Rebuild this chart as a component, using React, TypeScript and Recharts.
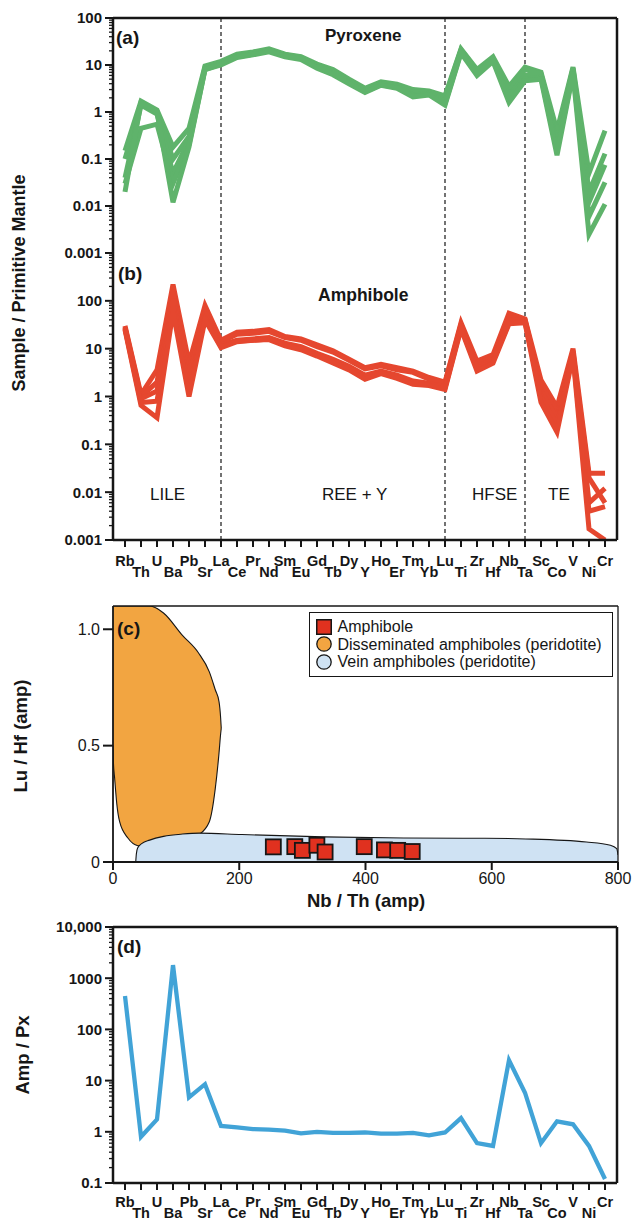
import type { JSX } from 'react';
import {
  Area,
  ComposedChart,
  Legend,
  Line,
  LineChart,
  ReferenceLine,
  Scatter,
  XAxis,
  YAxis,
} from 'recharts';

const FONT = '"Liberation Sans", Arial, Helvetica, sans-serif';
const INK = '#161616';
const GREEN = '#5fb36b';
const RED = '#e5472f';
const BLUE = '#41a3d7';
const ORANGE = '#f2a541';
const PALE_BLUE = '#cfe2f3';
const SQUARE_RED = '#e0311f';

const elements = [
  'Rb', 'Th', 'U', 'Ba', 'Pb', 'Sr', 'La', 'Ce', 'Pr', 'Nd', 'Sm', 'Eu', 'Gd', 'Tb', 'Dy', 'Y',
  'Ho', 'Er', 'Tm', 'Yb', 'Lu', 'Ti', 'Zr', 'Hf', 'Nb', 'Ta', 'Sc', 'Co', 'V', 'Ni', 'Cr',
];
const elementIdx = elements.map((_, i) => i);

// (a) pyroxene / primitive mantle, one array per sample
const pyroxene1 = [0.15, 1.7, 1.1, 0.18, 0.45, 9.5, 12, 17, 19, 22, 17, 15, 10.5, 8, 5, 3.2, 4.4, 3.9, 3, 2.8, 2.2, 22, 8, 15, 3.5, 9, 7, 0.4, 9, 0.05, 0.4];
const pyroxene2 = [0.1, 1.5, 1.0, 0.1, 0.3, 9, 11.5, 16, 18, 21, 16.5, 14.5, 10, 7.5, 4.8, 3, 4.2, 3.7, 2.6, 2.7, 2, 21, 7.5, 14, 2.8, 8, 6.5, 0.3, 8.5, 0.02, 0.13];
const pyroxene3 = [0.04, 1.4, 0.9, 0.05, 0.25, 8.5, 11, 15.5, 17, 20, 16, 14, 9.5, 7, 4.5, 2.8, 4, 3.5, 2.3, 2.5, 1.7, 20, 7, 13, 2.2, 6, 6, 0.2, 8, 0.012, 0.075];
const pyroxene4 = [0.03, 0.45, 0.55, 0.03, 0.2, 8, 10.5, 15, 17, 20, 15.5, 13.5, 9, 6.5, 4.2, 2.7, 3.8, 3.3, 2.2, 2.4, 1.5, 19, 6.5, 12.5, 2, 5, 5.5, 0.15, 7, 0.006, 0.032];
const pyroxene5 = [0.02, 1.6, 1.0, 0.012, 0.18, 8, 10, 14.5, 16.5, 19, 15, 13, 8.5, 6.2, 4, 2.6, 3.7, 3.2, 2.1, 2.3, 1.4, 18, 6, 12, 1.6, 4.6, 5, 0.12, 6.5, 0.0025, 0.011];

// (b) amphibole / primitive mantle
const amphibole1 = [30, 1.1, 3.6, 220, 5, 80, 15, 22, 23, 25, 18, 16, 12, 9, 6, 4, 4.7, 4, 3.4, 2.5, 2, 35, 5.5, 7.5, 55, 42, 2.2, 0.6, 10, 0.025, 0.025];
const amphibole2 = [28, 1.0, 2, 150, 3.5, 65, 14, 20, 21, 23, 17, 15, 11, 8.5, 5.7, 3.8, 4.4, 3.6, 3.2, 2.3, 1.9, 32, 4.8, 6.5, 45, 40, 1.7, 0.45, 9, 0.006, 0.012];
const amphibole3 = [27, 0.9, 1.3, 110, 2.5, 55, 12, 15, 16, 17, 13, 11, 8, 6, 4.3, 2.8, 3.4, 2.8, 2.1, 1.9, 1.6, 30, 4.2, 6, 40, 38, 1.3, 0.35, 8, 0.02, 0.006];
const amphibole4 = [26, 0.75, 0.8, 80, 1.5, 45, 11, 14.5, 15, 16, 12, 10, 7.5, 5.5, 4, 2.5, 3.2, 2.6, 1.9, 1.8, 1.5, 28, 3.8, 5.5, 35, 36, 1.0, 0.25, 7.5, 0.004, 0.005];
const amphibole5 = [25, 0.65, 0.36, 60, 1.0, 40, 10.5, 14, 15, 15.5, 11.5, 9.5, 7, 5, 3.6, 2.3, 3, 2.4, 1.8, 1.7, 1.4, 26, 3.4, 5, 33, 35, 0.75, 0.18, 7, 0.0017, 0.001];

// (d) amphibole / pyroxene
const ampPx = [450, 0.8, 1.75, 1800, 4.7, 8.5, 1.3, 1.22, 1.13, 1.1, 1.05, 0.93, 1.0, 0.95, 0.95, 0.97, 0.92, 0.92, 0.95, 0.85, 0.97, 1.85, 0.6, 0.53, 25, 5.8, 0.6, 1.6, 1.4, 0.53, 0.12];

// (c) Lu/Hf vs Nb/Th fields and points
const dissemNbTh = [0, 0.6, 2.6, 6, 10.5, 23.6, 39.4, 58, 80, 110, 135, 152.6, 162, 168, 170.5, 171.5];
const dissemLow = [0.5, 0.43, 0.36, 0.25, 0.173, 0.103, 0.07, 0.065, 0.07, 0.09, 0.115, 0.173, 0.315, 0.47, 0.55, 0.575];
const dissemHigh = [1.1, 1.1, 1.1, 1.1, 1.1, 1.1, 1.1, 1.1, 1.07, 0.974, 0.9, 0.817, 0.74, 0.688, 0.62, 0.575];
const veinNbTh = [36, 37, 39, 46, 58, 80, 110, 137, 204, 333, 461, 589, 654, 750, 788, 798, 800];
const veinTop = [0, 0.035, 0.06, 0.08, 0.094, 0.11, 0.12, 0.124, 0.118, 0.108, 0.103, 0.102, 0.099, 0.086, 0.072, 0.057, 0.03];
const amphNbTh = [254, 288, 300, 323, 336, 398, 430, 451, 474];
const amphLuHf = [0.065, 0.066, 0.05, 0.072, 0.043, 0.066, 0.052, 0.05, 0.045];

const pmMajorsA = [0.001, 0.01, 0.1, 1, 10, 100];
const pmLabelsA = ['0.001', '0.01', '0.1', '1', '10', '100'];
const pmMajorsB = [0.001, 0.01, 0.1, 1, 10, 100, 1000];
const pmLabelsB = ['0.001', '0.01', '0.1', '1', '10', '100', ''];
const ratioMajors = [0.1, 1, 10, 100, 1000, 10000];
const ratioLabels = ['0.1', '1', '10', '100', '1000', '10,000'];
const nbThTicks = [0, 200, 400, 600, 800];
const luHfTicks = [0, 0.5, 1.0];
const dividers = [6, 20, 25];

const legendItems = [
  { label: 'Amphibole', square: true, fill: SQUARE_RED },
  { label: 'Disseminated amphiboles (peridotite)', square: false, fill: ORANGE },
  { label: 'Vein amphiboles (peridotite)', square: false, fill: PALE_BLUE },
];

const pyroxeneSeries = [pyroxene1, pyroxene2, pyroxene3, pyroxene4, pyroxene5];
const amphiboleSeries = [amphibole1, amphibole2, amphibole3, amphibole4, amphibole5];

const spiderData = elements.map((el, i) => {
  const row: Record<string, number | string> = { i, el, ratio: ampPx[i] };
  pyroxeneSeries.forEach((s, n) => { row[`px${n}`] = s[i]; });
  amphiboleSeries.forEach((s, n) => { row[`am${n}`] = s[i]; });
  return row;
});

const dissemData = dissemNbTh.map((x, k) => ({ x, range: [dissemLow[k], dissemHigh[k]] }));
const veinData = veinNbTh.map((x, k) => ({ x, top: veinTop[k] }));
const amphPoints = amphNbTh.map((x, k) => ({ x, y: amphLuHf[k] }));

const X_DOMAIN: [number, number] = [-0.75, 30.75];

function withMinorTicks(majors: number[]): number[] {
  const out: number[] = [];
  majors.forEach((m, k) => {
    out.push(m);
    if (k < majors.length - 1) {
      for (let f = 2; f <= 9; f += 1) out.push(Number((m * f).toPrecision(4)));
    }
  });
  return out;
}

function makeLogTick(majors: number[], labels: string[]) {
  return function LogTick(props: any): JSX.Element {
    const { x, y, payload } = props;
    const k = majors.findIndex((m) => Math.abs(m - payload.value) / m < 1e-6);
    const major = k >= 0;
    const text = major ? labels[k] : '';
    return (
      <g>
        <line x1={x} x2={x - (major ? 8 : 4)} y1={y} y2={y} stroke={INK} strokeWidth={major ? 2 : 1.3} />
        {text !== '' && (
          <text x={x - 11} y={y} dy="0.36em" textAnchor="end" fontFamily={FONT} fontWeight="bold" fontSize={15} fill={INK}>
            {text}
          </text>
        )}
      </g>
    );
  };
}

function makeElementTick(row1: number, row2: number) {
  return function ElementTick(props: any): JSX.Element {
    const { x, y, payload } = props;
    const i = payload.value as number;
    return (
      <g>
        <line x1={x} x2={x} y1={y} y2={y + 7} stroke={INK} strokeWidth={2} />
        <text x={x} y={y + (i % 2 === 0 ? row1 : row2)} textAnchor="middle" fontFamily={FONT} fontWeight="bold" fontSize={14.5} fill={INK}>
          {elements[i]}
        </text>
      </g>
    );
  };
}

function InnerTick(props: any): JSX.Element {
  const { x, y } = props;
  return <line x1={x} x2={x} y1={y} y2={y - 5} stroke={INK} strokeWidth={2} />;
}

function sampleLines(prefix: string, count: number, color: string): JSX.Element[] {
  const out: JSX.Element[] = [];
  for (let n = 0; n < count; n += 1) {
    out.push(
      <Line key={`${prefix}${n}`} type="linear" dataKey={`${prefix}${n}`} stroke={color} strokeWidth={5}
        dot={false} activeDot={false} isAnimationActive={false} />,
    );
  }
  return out;
}

function frameLines(yTop: number | null): JSX.Element[] {
  const out = [
    <ReferenceLine key="right" x={X_DOMAIN[1]} stroke={INK} strokeWidth={2.5} />,
    ...dividers.map((d) => (
      <ReferenceLine key={`div${d}`} x={d} stroke={INK} strokeWidth={1.2} strokeDasharray="4 3" />
    )),
  ];
  if (yTop !== null) out.push(<ReferenceLine key="top" y={yTop} stroke={INK} strokeWidth={2.5} />);
  return out;
}

function LegendBox(): JSX.Element {
  return (
    <div style={{
      boxSizing: 'border-box', width: '100%', border: `1.5px solid ${INK}`, background: '#fff',
      padding: '5px 6px 5px 5.5px', fontFamily: FONT, fontSize: 16, lineHeight: '17.5px', color: INK,
    }}>
      {legendItems.map((item) => (
        <div key={item.label} style={{ display: 'flex', alignItems: 'center', whiteSpace: 'nowrap' }}>
          <svg width={16} height={16} style={{ marginRight: 6, flex: 'none' }}>
            {item.square
              ? <rect x={0.75} y={0.75} width={14.5} height={14.5} fill={item.fill} stroke={INK} strokeWidth={1.5} />
              : <circle cx={8} cy={8} r={7.2} fill={item.fill} stroke={INK} strokeWidth={1.3} />}
          </svg>
          <span>{item.label}</span>
        </div>
      ))}
    </div>
  );
}

const axisLine = { stroke: INK, strokeWidth: 2.5 };

export default function App(): JSX.Element {
  const titleStyle = { fontFamily: FONT, fontWeight: 'bold' as const, fill: INK };
  return (
    <div style={{ position: 'absolute', left: 0, top: 0, width: 633, height: 1222, fontFamily: FONT, background: '#fff' }}>
      {/* (a) pyroxene */}
      <div style={{ position: 'absolute', left: 0, top: 0 }}>
        <LineChart width={633} height={260} data={spiderData} margin={{ top: 18, right: 16, bottom: 7, left: 0 }}>
          <XAxis dataKey="i" type="number" domain={X_DOMAIN} ticks={elementIdx} interval={0} height={0}
            tickSize={0} tickMargin={0} tickLine={false} tick={InnerTick} axisLine={axisLine} />
          <YAxis type="number" scale="log" domain={[0.001, 100]} allowDataOverflow ticks={withMinorTicks(pmMajorsA)}
            interval={0} width={113} tickSize={0} tickMargin={0} tickLine={false}
            tick={makeLogTick(pmMajorsA, pmLabelsA)} axisLine={axisLine} />
          {frameLines(100)}
          {sampleLines('px', pyroxeneSeries.length, GREEN)}
        </LineChart>
      </div>

      {/* (b) amphibole */}
      <div style={{ position: 'absolute', left: 0, top: 240 }}>
        <LineChart width={633} height={345} data={spiderData} margin={{ top: 13, right: 16, bottom: 0, left: 0 }}>
          <XAxis dataKey="i" type="number" domain={X_DOMAIN} ticks={elementIdx} interval={0} height={45}
            tickSize={0} tickMargin={0} tickLine={false} tick={makeElementTick(26, 37)} axisLine={axisLine} />
          <YAxis type="number" scale="log" domain={[0.001, 1000]} allowDataOverflow ticks={withMinorTicks(pmMajorsB)}
            interval={0} width={113} tickSize={0} tickMargin={0} tickLine={false}
            tick={makeLogTick(pmMajorsB, pmLabelsB)} axisLine={axisLine} />
          {frameLines(null)}
          {sampleLines('am', amphiboleSeries.length, RED)}
        </LineChart>
      </div>

      {/* (c) Lu/Hf vs Nb/Th */}
      <div style={{ position: 'absolute', left: 0, top: 590 }}>
        <ComposedChart width={633} height={320} margin={{ top: 16, right: 15, bottom: 0, left: 0 }}>
          <XAxis dataKey="x" type="number" domain={[0, 800]} allowDataOverflow ticks={nbThTicks} interval={0} height={48}
            tickSize={8} tickMargin={3} tickLine={{ stroke: INK, strokeWidth: 2 }}
            tick={{ fontSize: 16, fill: INK, fontFamily: FONT }} axisLine={{ stroke: INK, strokeWidth: 2 }} />
          <YAxis type="number" domain={[0, 1.1]} allowDataOverflow ticks={luHfTicks} interval={0} width={113}
            tickSize={10} tickMargin={3} tickLine={{ stroke: INK, strokeWidth: 2 }}
            tickFormatter={(v: number) => (v === 1 ? '1.0' : String(v))}
            tick={{ fontSize: 16, fill: INK, fontFamily: FONT }} axisLine={{ stroke: INK, strokeWidth: 1.8 }} />
          <ReferenceLine y={1.1} stroke={INK} strokeWidth={1.3} />
          <ReferenceLine x={800} stroke={INK} strokeWidth={1.3} />
          <Area data={dissemData} dataKey="range" type="monotone" fill={ORANGE} fillOpacity={1}
            stroke={INK} strokeWidth={1.1} dot={false} activeDot={false} isAnimationActive={false} />
          <Area data={veinData} dataKey="top" type="monotone" fill={PALE_BLUE} fillOpacity={1}
            stroke={INK} strokeWidth={1.1} dot={false} activeDot={false} isAnimationActive={false} />
          <Scatter data={amphPoints} dataKey="y" isAnimationActive={false}
            shape={(p: any) => (
              <rect x={p.cx - 7.5} y={p.cy - 7.5} width={15} height={15} fill={SQUARE_RED} stroke={INK} strokeWidth={1.8} />
            )} />
          <Legend layout="vertical" align="center" verticalAlign="middle" content={LegendBox}
            wrapperStyle={{ position: 'absolute', top: 22, left: 309, width: 304, height: 'auto' }} />
        </ComposedChart>
      </div>

      {/* (d) amp / px */}
      <div style={{ position: 'absolute', left: 0, top: 905 }}>
        <LineChart width={633} height={317} data={spiderData} margin={{ top: 22, right: 16, bottom: 0, left: 0 }}>
          <XAxis dataKey="i" type="number" domain={X_DOMAIN} ticks={elementIdx} interval={0} height={39}
            tickSize={0} tickMargin={0} tickLine={false} tick={makeElementTick(24, 35)} axisLine={axisLine} />
          <YAxis type="number" scale="log" domain={[0.1, 10000]} allowDataOverflow ticks={withMinorTicks(ratioMajors)}
            interval={0} width={113} tickSize={0} tickMargin={0} tickLine={false}
            tick={makeLogTick(ratioMajors, ratioLabels)} axisLine={axisLine} />
          <ReferenceLine y={10000} stroke={INK} strokeWidth={2.5} />
          <ReferenceLine x={X_DOMAIN[1]} stroke={INK} strokeWidth={2.5} />
          <Line type="linear" dataKey="ratio" stroke={BLUE} strokeWidth={4.3} dot={false} activeDot={false}
            isAnimationActive={false} />
        </LineChart>
      </div>

      {/* annotations */}
      <svg width={633} height={1222} style={{ position: 'absolute', left: 0, top: 0, pointerEvents: 'none' }}>
        <text x={116} y={44} fontSize={19} {...titleStyle}>(a)</text>
        <text x={118} y={280} fontSize={19} {...titleStyle}>(b)</text>
        <text x={117} y={635} fontSize={19} {...titleStyle}>(c)</text>
        <text x={117} y={953} fontSize={19} {...titleStyle}>(d)</text>
        <text x={325} y={41} fontSize={17} {...titleStyle}>Pyroxene</text>
        <text x={318} y={301} fontSize={17.5} {...titleStyle}>Amphibole</text>
        <g fontFamily={FONT} fontSize={17} fill={INK}>
          <text x={150} y={500}>LILE</text>
          <text x={322} y={500}>REE + Y</text>
          <text x={472} y={500}>HFSE</text>
          <text x={548} y={500}>TE</text>
        </g>
        <text x={25} y={283} fontSize={18} textAnchor="middle" transform="rotate(-90 25 283)" {...titleStyle}>
          Sample / Primitive Mantle
        </text>
        <text x={27} y={736} fontSize={18.5} textAnchor="middle" transform="rotate(-90 27 736)" {...titleStyle}>
          Lu / Hf (amp)
        </text>
        <text x={29} y={1055} fontSize={18.5} textAnchor="middle" transform="rotate(-90 29 1055)" {...titleStyle}>
          Amp / Px
        </text>
        <text x={366} y={907} fontSize={18.5} textAnchor="middle" {...titleStyle}>Nb / Th (amp)</text>
      </svg>
    </div>
  );
}
